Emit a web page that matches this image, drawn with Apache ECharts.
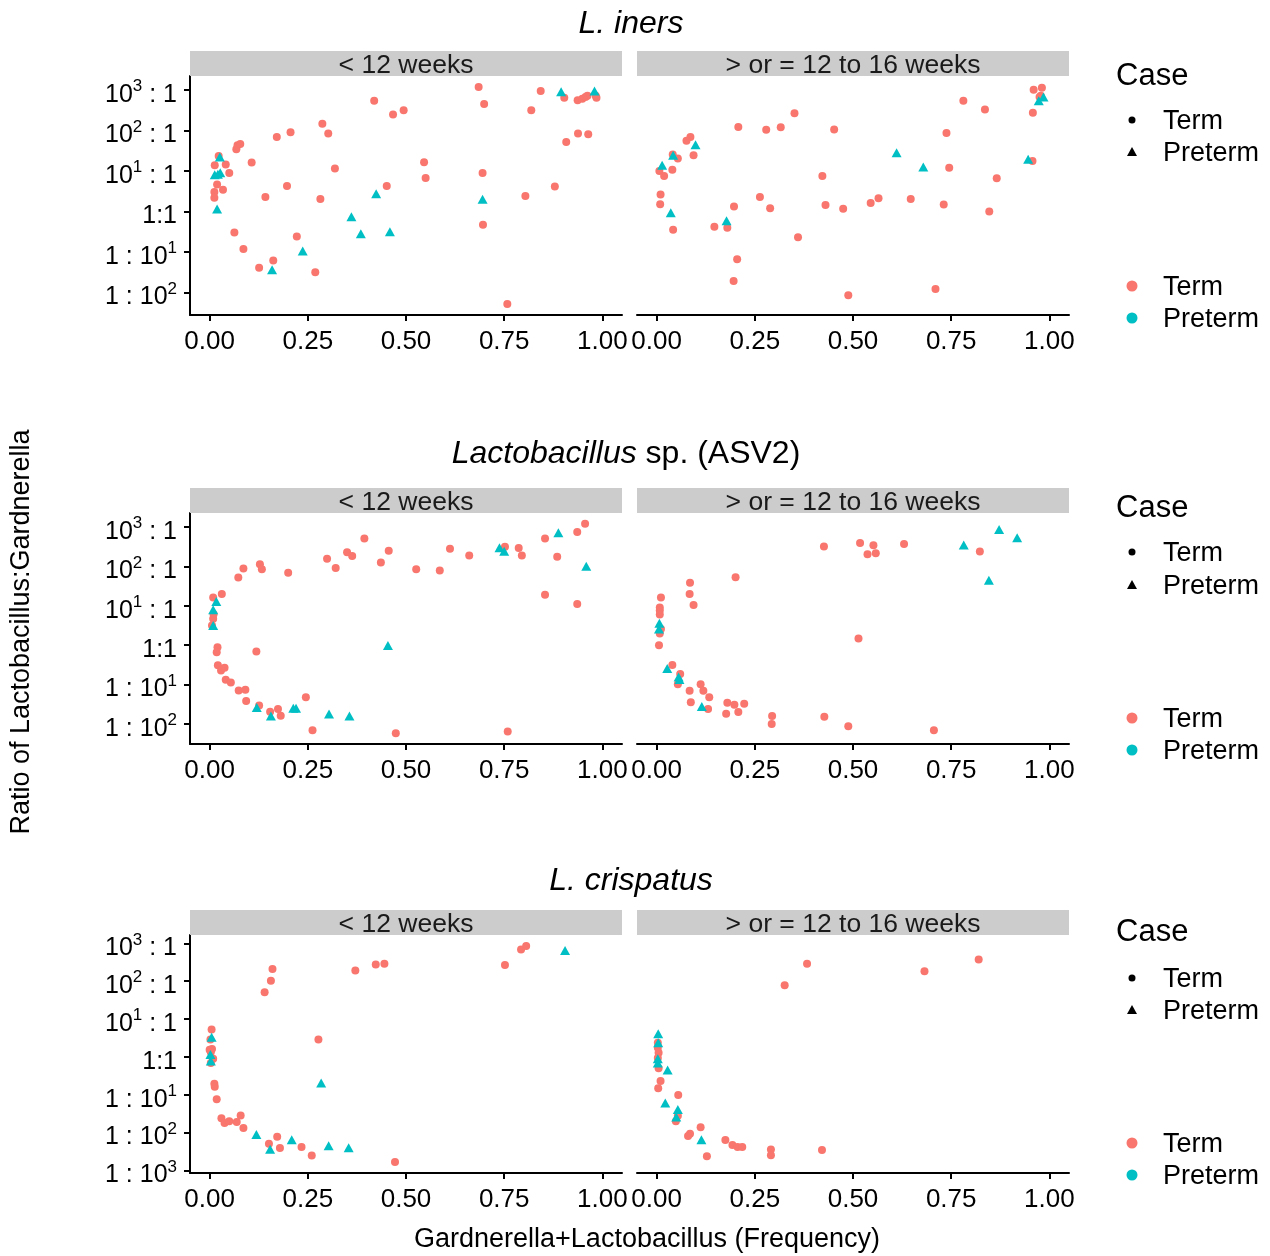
<!DOCTYPE html>
<html><head><meta charset="utf-8">
<script src="https://cdn.jsdelivr.net/npm/echarts@6/dist/echarts.min.js"></script>
<style>html,body{margin:0;padding:0;background:#fff}#c{width:1270px;height:1256px}</style>
</head><body><div id="c"></div>
<script>
// ---------- tick labels & text ----------
const X_TICKS = [0, 0.25, 0.5, 0.75, 1];
const X_TICK_LABELS = ['0.00', '0.25', '0.50', '0.75', '1.00'];
const Y_TICKS = [-3, -2, -1, 0, 1, 2, 3];           // log10 of ratio
const Y_TICK_LABELS = ['1 : 10³', '1 : 10²', '1 : 10¹', '1:1', '10¹ : 1', '10² : 1', '10³ : 1'];
const FACETS = ['< 12 weeks', '> or = 12 to 16 weeks'];
const CASES = ['Term', 'Preterm'];

// ---------- data: [frequency, log10(Lactobacillus:Gardnerella)] ----------
const iners_lt12_term = [[0.685,3.08],[0.699,2.66],[0.843,2.98],[0.819,2.50],[0.903,2.81],[0.937,2.75],[0.949,2.79],[0.957,2.83],[0.962,2.86],[0.985,2.81],[0.983,2.86],[0.908,1.72],[0.938,1.93],[0.964,1.91],[0.879,0.62],[0.804,0.38],[0.695,0.95],[0.696,-0.33],[0.758,-2.29],[0.546,1.22],[0.550,0.83],[0.419,2.74],[0.467,2.40],[0.494,2.50],[0.451,0.63],[0.287,2.17],[0.302,1.93],[0.319,1.06],[0.282,0.31],[0.206,1.96],[0.171,1.84],[0.197,0.63],[0.142,0.36],[0.222,-0.62],[0.269,-1.50],[0.162,-1.21],[0.126,-1.39],[0.086,-0.93],[0.063,-0.52],[0.107,1.21],[0.068,1.54],[0.071,1.64],[0.078,1.67],[0.041,1.16],[0.050,0.95],[0.023,1.37],[0.013,1.14],[0.019,0.67],[0.012,0.48],[0.012,0.34],[0.034,0.54]];
const iners_lt12_pre = [[0.895,2.96],[0.980,2.98],[0.695,0.30],[0.424,0.44],[0.361,-0.13],[0.385,-0.55],[0.459,-0.50],[0.237,-0.98],[0.159,-1.44],[0.019,0.06],[0.027,0.96],[0.013,0.91],[0.026,1.35],[0.021,0.92]];
const iners_ge12_term = [[0.960,3.01],[0.981,3.06],[0.978,2.86],[0.975,2.83],[0.958,2.44],[0.781,2.74],[0.836,2.52],[0.738,1.94],[0.745,1.08],[0.957,1.25],[0.866,0.82],[0.847,0.00],[0.731,0.17],[0.647,0.31],[0.565,0.33],[0.545,0.21],[0.475,0.07],[0.430,0.16],[0.422,0.88],[0.452,2.03],[0.351,2.43],[0.316,2.08],[0.279,2.02],[0.208,2.09],[0.360,-0.64],[0.289,0.08],[0.263,0.36],[0.197,0.12],[0.180,-0.40],[0.147,-0.38],[0.205,-1.18],[0.196,-1.72],[0.488,-2.07],[0.710,-1.92],[0.086,1.84],[0.076,1.75],[0.094,1.39],[0.054,1.31],[0.041,1.41],[0.040,1.03],[0.007,1.00],[0.019,0.88],[0.010,0.42],[0.009,0.18],[0.042,-0.45]];
const iners_ge12_pre = [[0.973,2.74],[0.985,2.83],[0.946,1.29],[0.611,1.45],[0.679,1.10],[0.099,1.65],[0.042,1.39],[0.014,1.14],[0.036,-0.03],[0.178,-0.23]];

const asv2_lt12_term = [[0.956,3.09],[0.936,2.88],[0.854,2.71],[0.885,2.25],[0.854,1.28],[0.936,1.05],[0.752,2.50],[0.787,2.47],[0.795,2.28],[0.661,2.28],[0.612,2.45],[0.586,1.90],[0.526,1.93],[0.456,2.40],[0.436,2.10],[0.394,2.71],[0.350,2.36],[0.363,2.27],[0.299,2.20],[0.321,1.96],[0.200,1.84],[0.128,2.06],[0.133,1.93],[0.086,1.95],[0.073,1.72],[0.031,1.30],[0.009,1.21],[0.010,0.79],[0.009,0.67],[0.006,0.50],[0.020,-0.05],[0.018,-0.18],[0.119,-0.16],[0.021,-0.51],[0.029,-0.64],[0.038,-0.57],[0.041,-0.88],[0.054,-0.95],[0.074,-1.15],[0.091,-1.13],[0.093,-1.42],[0.126,-1.53],[0.154,-1.69],[0.174,-1.62],[0.181,-1.79],[0.245,-1.32],[0.262,-2.16],[0.474,-2.24],[0.759,-2.19]];
const asv2_lt12_pre = [[0.888,2.86],[0.959,2.01],[0.738,2.48],[0.750,2.39],[0.454,-0.01],[0.356,-1.80],[0.304,-1.75],[0.220,-1.60],[0.213,-1.60],[0.156,-1.80],[0.120,-1.58],[0.009,0.90],[0.017,1.11],[0.009,0.50]];
const asv2_ge12_term = [[0.426,2.51],[0.518,2.60],[0.552,2.54],[0.537,2.31],[0.558,2.34],[0.630,2.57],[0.823,2.38],[0.201,1.73],[0.085,1.59],[0.084,1.30],[0.094,1.02],[0.011,1.21],[0.008,0.96],[0.008,0.88],[0.008,0.78],[0.011,0.41],[0.008,0.30],[0.006,0.00],[0.514,0.17],[0.040,-0.50],[0.060,-0.73],[0.054,-0.99],[0.112,-0.99],[0.119,-1.16],[0.084,-1.16],[0.134,-1.32],[0.087,-1.45],[0.131,-1.62],[0.180,-1.46],[0.198,-1.51],[0.223,-1.49],[0.208,-1.70],[0.177,-1.74],[0.294,-1.80],[0.293,-2.00],[0.427,-1.82],[0.488,-2.06],[0.706,-2.16]];
const asv2_ge12_pre = [[0.872,2.94],[0.918,2.73],[0.782,2.55],[0.846,1.65],[0.007,0.56],[0.006,0.41],[0.027,-0.59],[0.056,-0.81],[0.058,-0.87],[0.115,-1.56]];

const crisp_lt12_term = [[0.806,2.93],[0.793,2.84],[0.752,2.43],[0.445,2.46],[0.423,2.44],[0.371,2.28],[0.160,2.32],[0.156,2.01],[0.140,1.71],[0.277,0.46],[0.005,0.72],[0.002,0.46],[0.006,0.21],[0.003,0.12],[0.009,-0.05],[0.003,-0.16],[0.000,0.19],[0.012,-0.71],[0.013,-0.79],[0.018,-1.12],[0.030,-1.62],[0.038,-1.75],[0.050,-1.70],[0.069,-1.72],[0.079,-1.55],[0.086,-1.88],[0.151,-2.30],[0.172,-2.11],[0.179,-2.41],[0.234,-2.38],[0.260,-2.61],[0.472,-2.78]];
const crisp_lt12_pre = [[0.905,2.81],[0.284,-0.69],[0.005,0.52],[0.002,0.06],[0.003,-0.11],[0.119,-2.05],[0.154,-2.44],[0.209,-2.19],[0.303,-2.35],[0.354,-2.40]];
const crisp_ge12_term = [[0.820,2.57],[0.682,2.26],[0.383,2.46],[0.326,1.89],[0.003,0.37],[0.003,0.24],[0.005,0.11],[0.003,-0.03],[0.005,-0.30],[0.010,-0.64],[0.004,-0.83],[0.055,-1.01],[0.054,-1.56],[0.049,-1.70],[0.112,-1.86],[0.085,-2.03],[0.080,-2.09],[0.175,-2.20],[0.193,-2.33],[0.206,-2.38],[0.218,-2.38],[0.291,-2.45],[0.291,-2.60],[0.421,-2.46],[0.128,-2.63]];
const crisp_ge12_pre = [[0.004,0.61],[0.004,0.37],[0.003,-0.05],[0.003,-0.16],[0.028,-0.35],[0.022,-1.22],[0.054,-1.39],[0.050,-1.59],[0.114,-2.19]];

// ---------- layout ----------
const FONT = 'Liberation Sans, Arial, Helvetica, sans-serif';
const RED = '#F8766D', CYAN = '#00BFC4';
const COLS = [{ left: 190, width: 432 }, { left: 637, width: 432 }];
const ROWS = [
  { top: 76, height: 239, min: -2.56, max: 3.35, ticks: [-2, -1, 0, 1, 2, 3], titleY: 22, caseY: 75, shapeY: [120, 152], colY: [286, 318],
    data: [[iners_lt12_term, iners_lt12_pre], [iners_ge12_term, iners_ge12_pre]], title: '{i|L. iners}' },
  { top: 513, height: 231, min: -2.51, max: 3.36, ticks: [-2, -1, 0, 1, 2, 3], titleY: 452, caseY: 507, shapeY: [552, 585], colY: [718, 750],
    data: [[asv2_lt12_term, asv2_lt12_pre], [asv2_ge12_term, asv2_ge12_pre]], title: '{i|Lactobacillus}{n| sp. (ASV2)}' },
  { top: 935, height: 238, min: -3.07, max: 3.22, ticks: [-3, -2, -1, 0, 1, 2, 3], titleY: 879, caseY: 931, shapeY: [978, 1010], colY: [1143, 1175],
    data: [[crisp_lt12_term, crisp_lt12_pre], [crisp_ge12_term, crisp_ge12_pre]], title: '{i|L. crispatus}' }
];

const SUP = { '¹': '1', '²': '2', '³': '3' };
function yRich(v) {
  const s = Y_TICK_LABELS[Y_TICKS.indexOf(Math.round(v))];
  if (s === undefined) return '';
  let out = '', buf = '';
  for (const ch of s) {
    if (SUP[ch]) { if (buf) out += '{n|' + buf + '}'; buf = ''; out += '{s|' + SUP[ch] + '}'; }
    else buf += ch;
  }
  if (buf) out += '{n|' + buf + '}';
  return out;
}

const grids = [], xAxes = [], yAxes = [], series = [], graphics = [];
const axisColor = '#000';
ROWS.forEach((row, r) => {
  COLS.forEach((col, c) => {
    const i = r * 2 + c;
    grids.push({ left: col.left, top: row.top, width: col.width, height: row.height, containLabel: false });
    xAxes.push({
      gridIndex: i, type: 'value', min: -0.05, max: 1.05,
      axisLine: { show: true, onZero: false, lineStyle: { color: axisColor, width: 2 } },
      axisTick: { show: true, customValues: X_TICKS, length: 6, lineStyle: { color: axisColor, width: 2 } },
      axisLabel: { customValues: X_TICKS, color: '#000', fontSize: 26, fontFamily: FONT, margin: 14,
        formatter: v => X_TICK_LABELS[X_TICKS.indexOf(Math.round(v * 100) / 100)] },
      splitLine: { show: false }
    });
    const showY = c === 0;
    yAxes.push({
      gridIndex: i, type: 'value', min: row.min, max: row.max,
      axisLine: { show: showY, onZero: false, lineStyle: { color: axisColor, width: 2 } },
      axisTick: { show: showY, customValues: row.ticks, length: 6, lineStyle: { color: axisColor, width: 2 } },
      axisLabel: { show: showY, customValues: row.ticks, margin: 13, formatter: yRich, padding: [10, 0, 0, 0],
        rich: { n: { fontSize: 25, lineHeight: 34, color: '#000', fontFamily: FONT },
                s: { fontSize: 17, lineHeight: 17, verticalAlign: 'top', color: '#000', fontFamily: FONT } } },
      splitLine: { show: false }
    });
    series.push({ name: CASES[0], type: 'scatter', xAxisIndex: i, yAxisIndex: i, data: row.data[c][0],
      symbol: 'circle', symbolSize: 8, itemStyle: { color: RED, opacity: 1 }, silent: true, z: 3 });
    series.push({ name: CASES[1], type: 'scatter', xAxisIndex: i, yAxisIndex: i, data: row.data[c][1],
      symbol: 'triangle', symbolSize: [10, 9], itemStyle: { color: CYAN, opacity: 1 }, silent: true, z: 4 });
    // strip
    graphics.push({ type: 'rect', shape: { x: col.left, y: row.top - 25, width: col.width, height: 25 }, style: { fill: '#cccccc' }, z: 1 });
    graphics.push({ type: 'text', x: col.left + col.width / 2, y: row.top - 10, style: { text: FACETS[c], font: '26.5px ' + FONT, fill: '#1a1a1a', align: 'center', verticalAlign: 'middle' }, z: 2 });
  });
  // row title
  graphics.push({ type: 'text', x: r === 1 ? 626 : 631, y: row.titleY + 2, style: {
    text: row.title, align: 'center', verticalAlign: 'middle',
    rich: { i: { fontSize: 32, fontStyle: 'italic', fontFamily: FONT, fill: '#000' }, n: { fontSize: 32, fontFamily: FONT, fill: '#000' } } } });
  // legend: Case (shape)
  graphics.push({ type: 'text', x: 1116, y: row.caseY + 1, style: { text: 'Case', font: '31px ' + FONT, fill: '#000', align: 'left', verticalAlign: 'middle' } });
  graphics.push({ type: 'circle', shape: { cx: 1132, cy: row.shapeY[0], r: 3.5 }, style: { fill: '#000' } });
  graphics.push({ type: 'polygon', shape: { points: [[1132, row.shapeY[1] - 5], [1127, row.shapeY[1] + 4], [1137, row.shapeY[1] + 4]] }, style: { fill: '#000' } });
  CASES.forEach((name, k) => {
    graphics.push({ type: 'text', x: 1163, y: row.shapeY[k] + 2, style: { text: name, font: '27px ' + FONT, fill: '#000', align: 'left', verticalAlign: 'middle' } });
    graphics.push({ type: 'circle', shape: { cx: 1132, cy: row.colY[k], r: 5.5 }, style: { fill: k === 0 ? RED : CYAN } });
    graphics.push({ type: 'text', x: 1163, y: row.colY[k] + 2, style: { text: name, font: '27px ' + FONT, fill: '#000', align: 'left', verticalAlign: 'middle' } });
  });
});
// axis titles
graphics.push({ type: 'text', x: 647, y: 1240, style: { text: 'Gardnerella+Lactobacillus (Frequency)', font: '27px ' + FONT, fill: '#000', align: 'center', verticalAlign: 'middle' } });
graphics.push({ type: 'text', x: 22, y: 632, rotation: Math.PI / 2, style: { text: 'Ratio of Lactobacillus:Gardnerella', font: '27px ' + FONT, fill: '#000', align: 'center', verticalAlign: 'middle' } });

const chart = echarts.init(document.getElementById('c'), null, { renderer: 'canvas' });
chart.setOption({
  animation: false,
  backgroundColor: '#fff',
  textStyle: { fontFamily: FONT },
  grid: grids, xAxis: xAxes, yAxis: yAxes, series: series, graphic: graphics
});
</script></body></html>
